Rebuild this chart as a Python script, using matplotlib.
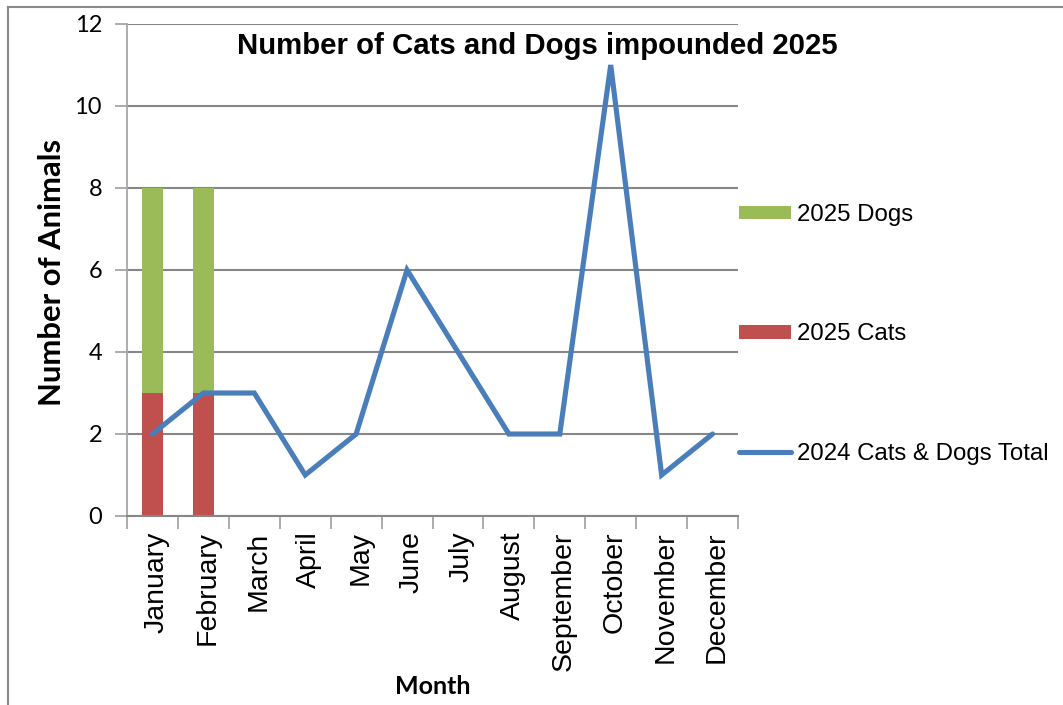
import matplotlib
matplotlib.use("Agg")
import matplotlib.pyplot as plt
from matplotlib.patches import Patch
from matplotlib.lines import Line2D
from matplotlib.transforms import ScaledTranslation
import numpy as np

months = ["January", "February", "March", "April", "May", "June", "July",
          "August", "September", "October", "November", "December"]
cats_2025 = [3, 3, None, None, None, None, None, None, None, None, None, None]
dogs_2025 = [5, 5, None, None, None, None, None, None, None, None, None, None]
total_2024 = [2, 3, 3, 1, 2, 6, 4, 2, 2, 11, 1, 2]
y_ticks = [0, 2, 4, 6, 8, 10, 12]

title = "Number of Cats and Dogs impounded 2025"
xlabel = "Month"
ylabel = "Number of Animals"
labels = ["2025 Dogs", "2025 Cats", "2024 Cats & Dogs Total"]

W, H = 1063, 705
fig = plt.figure(figsize=(W / 100, H / 100), dpi=100)
fig.patch.set_facecolor("white")

def px(x, y):
    return x / W, 1 - y / H

L, R, T, B = 127, 738, 24, 516
ax = fig.add_axes([L / W, 1 - B / H, (R - L) / W, (B - T) / H])

RED = "#c0504d"
GREEN = "#9bbb59"
BLUE = "#4a7ebb"
GRID = "#878787"
AXC = "#a6a6a6"

x = np.arange(len(months))
bar_idx = [i for i, v in enumerate(cats_2025) if v is not None]
cv = [cats_2025[i] for i in bar_idx]
dv = [dogs_2025[i] for i in bar_idx]
bw = 0.41
ax.bar(bar_idx, cv, width=bw, color=RED, zorder=2)
ax.bar(bar_idx, dv, bottom=cv, width=bw, color=GREEN, zorder=2)
ax.plot(x, total_2024, color=BLUE, lw=3.7, zorder=3, solid_capstyle="round",
        solid_joinstyle="miter")

ax.set_xlim(-0.5, len(months) - 0.5)
ax.set_ylim(0, 12)
ax.set_yticks(y_ticks)
ax.set_yticklabels([str(v) for v in y_ticks], fontfamily="Lato", fontsize=17)
ax.yaxis.grid(True, color=GRID, lw=1.5, zorder=0)
ax.set_axisbelow(True)

ax.set_xticks(x)
ax.set_xticklabels(months, rotation=90, fontfamily="Liberation Sans", fontsize=20.5)
ax.set_xticks(np.arange(-0.5, len(months) + 0.5, 1), minor=True)
ax.tick_params(axis="x", which="major", length=0, pad=11)
ax.tick_params(axis="x", which="minor", length=9, color=AXC, width=1.3)
ax.tick_params(axis="y", which="major", length=9, color=AXC, width=1.3, pad=9)
shift = ScaledTranslation(4 / 100, 0, fig.dpi_scale_trans)
for lab in ax.get_xticklabels():
    lab.set_transform(lab.get_transform() + shift)

for s in ["top", "right"]:
    ax.spines[s].set_visible(False)
ax.spines["left"].set_color(AXC)
ax.spines["left"].set_linewidth(1.3)
ax.spines["bottom"].set_color(GRID)
ax.spines["bottom"].set_linewidth(1.5)

fig.text(537 / W, 1 - 54 / H, title, ha="center", va="baseline",
         fontfamily="Liberation Sans", fontweight="bold", fontsize=21.2)
fig.text(52 / W, 1 - 272 / H, ylabel, rotation=90, ha="center", va="center",
         fontfamily="Lato", fontweight="bold", fontsize=22.3)
fig.text(433 / W, 1 - 687 / H, xlabel, ha="center", va="center",
         fontfamily="Lato", fontweight="bold", fontsize=18)

handles = [Patch(facecolor=GREEN, edgecolor="none"),
           Patch(facecolor=RED, edgecolor="none"),
           Line2D([0], [0], color=BLUE, lw=3.7, solid_capstyle="round")]
fig.legend(handles, labels, loc="upper left", bbox_to_anchor=px(739, 204),
           frameon=False, prop={"family": "Liberation Sans", "size": 17.3},
           handlelength=2.15, handleheight=0.5, handletextpad=0.25,
           labelspacing=4.05, borderpad=0, borderaxespad=0)

# outer chart frame
fig.add_artist(Line2D([8 / W, 1], [1 - 7 / H, 1 - 7 / H], color="#8a8a8a", lw=1.5,
                      transform=fig.transFigure))
fig.add_artist(Line2D([8 / W, 8 / W], [0, 1 - 7 / H], color="#8a8a8a", lw=1.5,
                      transform=fig.transFigure))

fig.savefig("out.png", dpi=100)
